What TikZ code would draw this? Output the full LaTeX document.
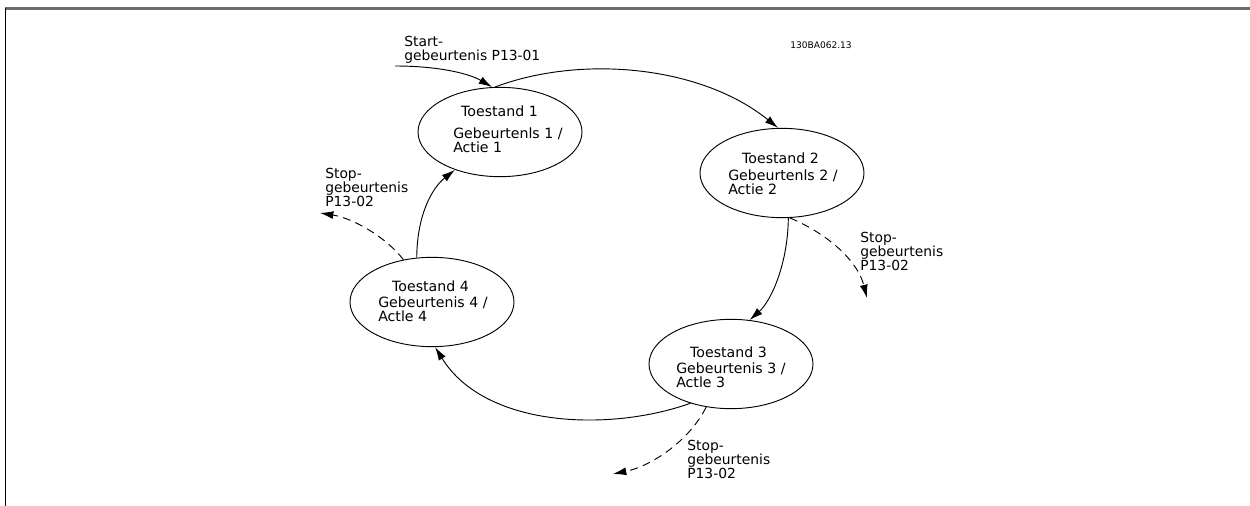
\documentclass[tikz,border=0pt]{standalone}
\usepackage{fontspec}
\setmainfont{DejaVu Sans}
\usetikzlibrary{shapes.geometric,arrows.meta}
\begin{document}
\begin{tikzpicture}[x=0.75pt,y=-0.75pt,
  statebox/.style={draw,ellipse,line width=0.7pt,minimum width=123pt,minimum height=67pt,inner sep=0pt},
  ttl/.style={font=\fontsize{10.6}{10.5}\selectfont,inner sep=0pt},
  body/.style={font=\fontsize{10.6}{10.5}\selectfont,inner sep=0pt,align=left,anchor=west},
  lbl/.style={font=\fontsize{10.4}{10.5}\selectfont,inner sep=0pt,align=left,anchor=west},
  conn/.style={line width=0.7pt,-{Latex[length=10pt,width=6pt]}},
  stopconn/.style={conn,dash pattern=on 6pt off 4pt}]
\useasboundingbox (0,0) rectangle (1250,506);
% frame
\draw[line width=1.6pt,gray!85!black] (5,8.5) -- (1250,8.5);
\draw[line width=1.1pt,black] (5.5,8) -- (5.5,506);
% code
\node[font=\fontsize{6.8}{7}\selectfont,inner sep=0pt] (code) at (821,45) {130BA062.13};
% states
\node[statebox] (e1) at (500,132) {};
\node[statebox] (e2) at (782,173) {};
\node[statebox] (e3) at (731,364) {};
\node[statebox] (e4) at (432,302) {};
\node[ttl] (t1) at (499.5,111) {Toestand 1};
\node[body] (b1) at (453,140) {Gebeurtenls 1 /\\Actie 1};
\node[ttl] (t2) at (780.5,158) {Toestand 2};
\node[body] (b2) at (728,182.5) {Gebeurtenls 2 /\\Actie 2};
\node[ttl] (t3) at (728.5,352) {Toestand 3};
\node[body] (b3) at (676,375.5) {Gebeurtenis 3 /\\Actle 3};
\node[ttl] (t4) at (430.5,286) {Toestand 4};
\node[body] (b4) at (378,309.5) {Gebeurtenis 4 /\\Actle 4};
% labels
\node[lbl] (ls) at (404,50) {Start-\\gebeurtenis P13-01};
\node[lbl] (l4) at (325,187) {Stop-\\gebeurtenis\\P13-02};
\node[lbl] (l2) at (860,251) {Stop-\\gebeurtenis\\P13-02};
\node[lbl] (l3) at (687,459) {Stop-\\gebeurtenis\\P13-02};
% free ends
\coordinate (s0) at (395,66);
\coordinate (x4) at (320,213);
\coordinate (x2) at (867,298);
\coordinate (x3) at (613,474);
% connectors
\draw[conn] (s0) .. controls (440,66) and (470,74) .. (e1.100);
\draw[conn] (e1.96) .. controls (580,55) and (700,65) .. (e2.95);
\draw[conn] (e2.278) .. controls (788,262) and (772,300) .. (e3.67);
\draw[conn] (e3.224) .. controls (610,432) and (485,428) .. (e4.274);
\draw[conn] (e4.109) .. controls (417,215) and (432,188) .. (e1.220);
\draw[stopconn] (e2.280) .. controls (830,235) and (858,262) .. (x2);
\draw[stopconn] (e4.124) .. controls (385,236) and (352,218) .. (x4);
\draw[stopconn] (e3.240) .. controls (690,440) and (652,466) .. (x3);
\end{tikzpicture}
\end{document}
